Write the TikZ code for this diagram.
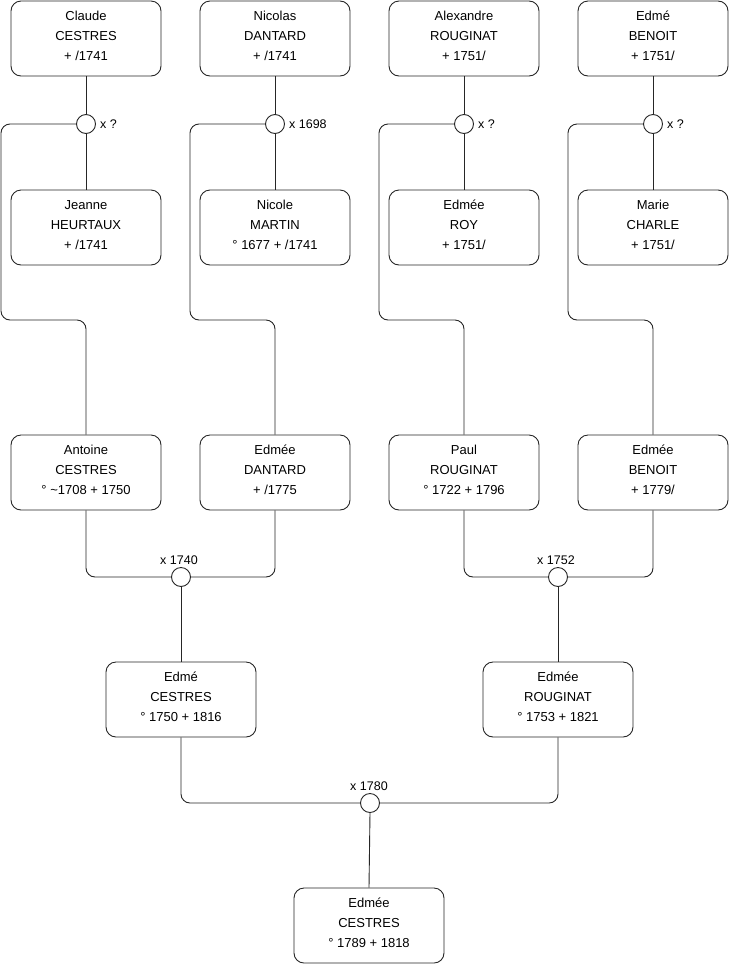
\documentclass[tikz,border=0pt]{standalone}
\usepackage{fontspec}
\setmainfont{Liberation Sans}
\newcommand{\ppl}[3]{\raisebox{0pt}[18pt][55pt]{\begin{tabular}[t]{@{}c@{}}#1\\#2\\#3\end{tabular}}}
\begin{document}
\begin{tikzpicture}[x=1pt,y=-1pt,
  person/.style={draw=black!85, line width=0.9pt, rounded corners=10pt, minimum width=150pt, minimum height=75pt, align=center, inner sep=0pt, font=\fontsize{13}{20}\selectfont},
  wed/.style={draw=black!85, line width=0.9pt, circle, minimum size=19pt, inner sep=0pt, fill=white},
  lbl/.style={font=\fontsize{12.5}{14}\selectfont, inner sep=1pt},
  link/.style={line width=0.9pt, draw=black!85, rounded corners=9pt}]
\useasboundingbox (0,0) rectangle (740,975);
% top row
\node[person] (claude) at (86,38.5) {\ppl{Claude}{CESTRES}{+ /1741}};
\node[person] (nicolas) at (275,38.5) {\ppl{Nicolas}{DANTARD}{+ /1741}};
\node[person] (alex) at (464,38.5) {\ppl{Alexandre}{ROUGINAT}{+ 1751/}};
\node[person] (edmeb) at (653,38.5) {\ppl{Edmé}{BENOIT}{+ 1751/}};
% wives
\node[person] (jeanne) at (86,227.5) {\ppl{Jeanne}{HEURTAUX}{+ /1741}};
\node[person] (nicole) at (275,227.5) {\ppl{Nicole}{MARTIN}{° 1677 + /1741}};
\node[person] (roy) at (464,227.5) {\ppl{Edmée}{ROY}{+ 1751/}};
\node[person] (marie) at (653,227.5) {\ppl{Marie}{CHARLE}{+ 1751/}};
% third row
\node[person] (antoine) at (86,472.5) {\ppl{Antoine}{CESTRES}{° \textasciitilde1708 + 1750}};
\node[person] (dantard) at (275,472.5) {\ppl{Edmée}{DANTARD}{+ /1775}};
\node[person] (paul) at (464,472.5) {\ppl{Paul}{ROUGINAT}{° 1722 + 1796}};
\node[person] (benoit) at (653,472.5) {\ppl{Edmée}{BENOIT}{+ 1779/}};
% fourth row
\node[person] (edme) at (181,699.5) {\ppl{Edmé}{CESTRES}{° 1750 + 1816}};
\node[person] (rouginat) at (558,699.5) {\ppl{Edmée}{ROUGINAT}{° 1753 + 1821}};
% bottom
\node[person] (final) at (369,925.5) {\ppl{Edmée}{CESTRES}{° 1789 + 1818}};
% marriages
\node[wed] (m1) at (86,124) {};
\node[wed] (m2) at (275,124) {};
\node[wed] (m3) at (464,124) {};
\node[wed] (m4) at (653,124) {};
\node[wed] (m5) at (181,577) {};
\node[wed] (m6) at (558,577) {};
\node[wed] (m7) at (370,803) {};
\node[lbl, anchor=west] (l1) at (m1.east) [xshift=3pt] {x ?};
\node[lbl, anchor=west] (l2) at (m2.east) [xshift=3pt] {x 1698};
\node[lbl, anchor=west] (l3) at (m3.east) [xshift=3pt] {x ?};
\node[lbl, anchor=west] (l4) at (m4.east) [xshift=3pt] {x ?};
\node[lbl, anchor=south] (l5) at (m5.north) [xshift=-2pt,yshift=1pt] {x 1740};
\node[lbl, anchor=south] (l6) at (m6.north) [xshift=-2pt,yshift=1pt] {x 1752};
\node[lbl, anchor=south] (l7) at (m7.north) [xshift=-1pt,yshift=1pt] {x 1780};
% top links
\foreach \p/\m/\w in {claude/m1/jeanne, nicolas/m2/nicole, alex/m3/roy, edmeb/m4/marie}{
  \draw[link] (\p.south) -- (\m.north);
  \draw[link] (\m.south) -- (\w.north);
}
\draw[link] (m1.west) -- (1,124) -- (1,320) -- (86,320) -- (antoine.north);
\draw[link] (m2.west) -- (190,124) -- (190,320) -- (275,320) -- (dantard.north);
\draw[link] (m3.west) -- (379,124) -- (379,320) -- (464,320) -- (paul.north);
\draw[link] (m4.west) -- (568,124) -- (568,320) -- (653,320) -- (benoit.north);
% lower links
\draw[link] (antoine.south) |- (m5.west);
\draw[link] (dantard.south) |- (m5.east);
\draw[link] (m5.south) -- (edme.north);
\draw[link] (paul.south) |- (m6.west);
\draw[link] (benoit.south) |- (m6.east);
\draw[link] (m6.south) -- (rouginat.north);
\draw[link] (edme.south) |- (m7.west);
\draw[link] (rouginat.south) |- (m7.east);
\draw[link] (m7.south) -- (final.north);
\end{tikzpicture}
\end{document}
